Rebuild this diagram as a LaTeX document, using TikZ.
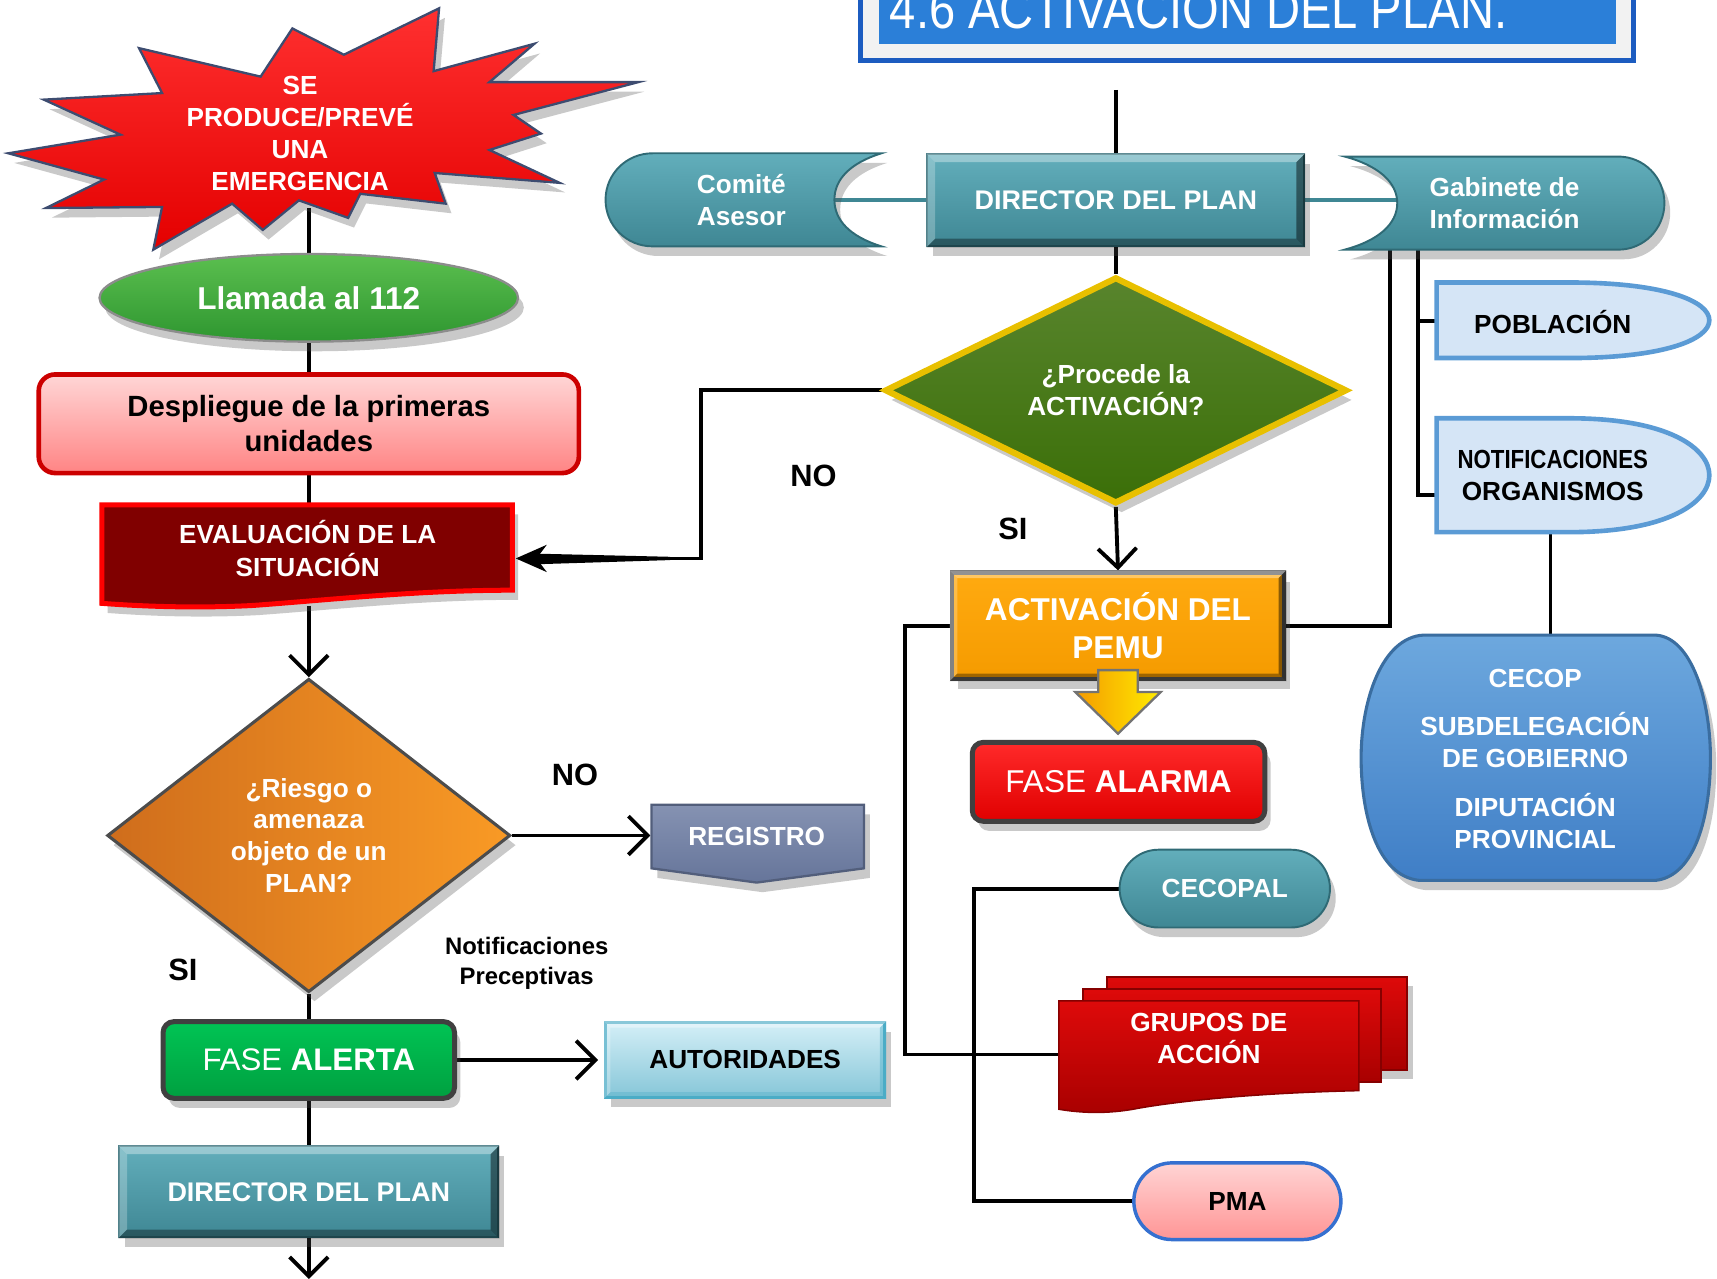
\documentclass[tikz,border=0pt]{standalone}
\usepackage{fontspec}
\setmainfont{Liberation Sans}
\newfontfamily\narrowfont[FakeStretch=0.85]{Liberation Sans}
\usetikzlibrary{shapes.geometric,shadows,arrows.meta,calc}
\pgfdeclarelayer{bg}
\pgfsetlayers{bg,main}
\newcommand\fz[2]{\fontsize{#1}{#2}\selectfont}
\definecolor{tealA}{HTML}{62AEBB}
\definecolor{tealB}{HTML}{3F8794}
\definecolor{tealD}{HTML}{2F6A75}
\definecolor{grnA}{HTML}{5BBF4F}
\definecolor{grnB}{HTML}{2E9630}
\definecolor{pinkA}{HTML}{FFD6D6}
\definecolor{pinkB}{HTML}{FF8484}
\definecolor{darkred}{HTML}{800000}
\definecolor{orgA}{HTML}{CF6D1C}
\definecolor{orgB}{HTML}{F99A25}
\definecolor{regA}{HTML}{8592B2}
\definecolor{regB}{HTML}{66759A}
\definecolor{alA}{HTML}{00C454}
\definecolor{alB}{HTML}{00A040}
\definecolor{autA}{HTML}{D4EFF7}
\definecolor{autB}{HTML}{86C6D8}
\definecolor{autD}{HTML}{4BACC6}
\definecolor{titleblue}{HTML}{2B7FD8}
\definecolor{titleedge}{HTML}{1C5CC0}
\definecolor{procG}{HTML}{3B6F08}
\definecolor{gold}{HTML}{E8C000}
\definecolor{actA}{HTML}{FFAA10}
\definecolor{actB}{HTML}{F59B00}
\definecolor{almA}{HTML}{FF2A2A}
\definecolor{almB}{HTML}{E00000}
\definecolor{pobF}{HTML}{D5E5F6}
\definecolor{pobD}{HTML}{5B9BD5}
\definecolor{cecA}{HTML}{6DA8DE}
\definecolor{cecB}{HTML}{3F7EC6}
\definecolor{cecD}{HTML}{3A6DA0}
\definecolor{grpA}{HTML}{DE0A0A}
\definecolor{grpB}{HTML}{A80000}
\definecolor{pmaA}{HTML}{FFD4D4}
\definecolor{pmaB}{HTML}{FF9595}
\definecolor{pmaD}{HTML}{3570D0}
\definecolor{starA}{HTML}{FF3030}
\definecolor{starB}{HTML}{E40000}
\definecolor{starD}{HTML}{3D4C70}
\newcommand\bevel[4]{%
 \fill[#3,opacity=.35] (#1.north west) -- (#1.north east) -- ($(#1.north east)+(-#2,#2)$) -- ($(#1.north west)+(#2,#2)$) -- cycle;
 \fill[#3,opacity=.25] (#1.north west) -- ($(#1.north west)+(#2,#2)$) -- ($(#1.south west)+(#2,-#2)$) -- (#1.south west) -- cycle;
 \fill[#4,opacity=.35] (#1.south west) -- ($(#1.south west)+(#2,-#2)$) -- ($(#1.south east)+(-#2,-#2)$) -- (#1.south east) -- cycle;
 \fill[#4,opacity=.45] (#1.north east) -- (#1.south east) -- ($(#1.south east)+(-#2,-#2)$) -- ($(#1.north east)+(-#2,#2)$) -- cycle;
}
\begin{document}
\begin{tikzpicture}[x=0.01cm,y=-0.01cm,
  conn/.style={line width=1pt,black},
  arr/.style={conn,-{Straight Barb[length=5pt,width=10pt,line width=1pt]}},
  shad/.style={drop shadow={shadow xshift=1.5pt,shadow yshift=-2.5pt,opacity=.3,fill=black!70}},
  txt/.style={text=white,align=center,inner sep=0pt},
  ftwo/.style={font=\bfseries\fz{6.8}{8.3}},
  fbig/.style={font=\bfseries\fz{8.2}{9.7}},
  tealbox/.style={top color=tealA,bottom color=tealB,draw=tealD,line width=.5pt}]
\useasboundingbox (0,0) rectangle (1568,1168);

% title
\filldraw[fill=black!5,draw=titleedge,line width=1.3pt] (786,-20) rectangle (1492,55);
\fill[titleblue] (803,-20) rectangle (1476,40);
\node[anchor=base west,text=white,font=\narrowfont\fz{14.4}{16},inner sep=0pt] (title) at (812,26) {4.6 ACTIVACIÓN DEL PLAN.};
\coordinate (topline) at (1019,82);

% star
\filldraw[top color=starA,bottom color=starB,draw=starD,line width=.6pt,shad]
 (7.6,140) -- (110,123) -- (40,91) -- (148,85) -- (127,44) -- (238,70) -- (267,26) -- (314,50)
 -- (401,7.6) -- (396,65) -- (488,40) -- (447,75) -- (583,75) -- (469,105) -- (494,122)
 -- (447,137) -- (511,167) -- (397,158) -- (407,186) -- (329,177) -- (318,199) -- (273,183)
 -- (240,210) -- (212,186) -- (140,228) -- (148,189) -- (42,190) -- (95,164) -- cycle;
\node[txt,ftwo] (emerg) at (274,122) {SE\\PRODUCE/PREVÉ\\UNA\\EMERGENCIA};
\coordinate (emergB) at (282,190);

% left column
\node[ellipse,minimum width=3.82cm,minimum height=0.8cm,top color=grnA,bottom color=grnB,draw=black!45,line width=.6pt,shad,txt,fbig] (llamada) at (282,272) {Llamada al 112};
\node[rectangle,rounded corners=0.15cm,minimum width=4.93cm,minimum height=0.9cm,top color=pinkA,bottom color=pinkB,draw=red!80!black,line width=1.2pt,align=center,inner sep=0pt,font=\bfseries\fz{7.6}{9.1}] (desp) at (282,387) {Despliegue de la primeras\\unidades};

\filldraw[fill=darkred,draw=red,line width=1.3pt,shad] (93,461) -- (468,461) -- (468,539) .. controls (380,539) and (300,548) .. (230,553) .. controls (170,556) and (120,553) .. (93,551) -- cycle;
\node[txt,font=\bfseries\fz{6.8}{8.5}] (eval) at (281,501) {EVALUACIÓN DE LA\\SITUACIÓN};
\coordinate (eval-n) at (282,461);
\coordinate (eval-s) at (282,553);
\coordinate (eval-e) at (471,510);

\node[diamond,aspect=1.29,minimum width=3.68cm,minimum height=2.86cm,left color=orgA,right color=orgB,draw=black!70,line width=.8pt,shad,txt,ftwo] (riesgo) at (282,763) {¿Riesgo o\\amenaza\\objeto de un\\PLAN?};

\filldraw[top color=regA,bottom color=regB,draw=regB!80!black,line width=.6pt,shad] (595,735) -- (789,735) -- (789,793) -- (691,806) -- (595,793) -- cycle;
\node[txt,ftwo] (registro) at (691,764) {REGISTRO};
\coordinate (reg-w) at (594,763);

\node[font=\bfseries\fz{8}{9},inner sep=0pt] (no1) at (525,708) {NO};
\node[font=\bfseries\fz{8}{9},inner sep=0pt] (si1) at (167,886) {SI};
\node[align=center,font=\bfseries\fz{6.2}{7.7},inner sep=0pt] (nprec) at (481,880) {Notificaciones\\Preceptivas};

\node[rectangle,rounded corners=0.1cm,minimum width=2.66cm,minimum height=0.7cm,top color=alA,bottom color=alB,draw=black!75,line width=1.3pt,shad,txt,font=\fz{8.1}{9}] (alerta) at (282,968) {FASE \textbf{ALERTA}};

\node[rectangle,minimum width=2.55cm,minimum height=0.68cm,top color=autA,bottom color=autB,draw=autD,line width=.8pt,shad,align=center,inner sep=0pt,ftwo] (autoridades) at (680.5,968) {AUTORIDADES};
\bevel{autoridades}{6}{white}{autD}

\node[rectangle,minimum width=3.46cm,minimum height=0.83cm,tealbox,shad,txt,font=\bfseries\fz{7}{8.3}] (dirB) at (282,1088.5) {DIRECTOR DEL PLAN};
\bevel{dirB}{8}{white}{black}
\coordinate (endB) at (282,1168);

% top right group
\filldraw[tealbox,shad] (805,140) -- (596,140) .. controls (572,140) and (553,159) .. (553,182.5) .. controls (553,206) and (572,225) .. (596,225) -- (805,225) .. controls (776,216) and (762,201) .. (762,182.5) .. controls (762,164) and (776,149) .. (805,140) -- cycle;
\node[txt,ftwo] (comite) at (677,182.5) {Comité\\Asesor};
\coordinate (comite-e) at (762,183);

\node[rectangle,minimum width=3.44cm,minimum height=0.84cm,tealbox,shad,txt,font=\bfseries\fz{7}{8.3}] (dirT) at (1019,183) {DIRECTOR DEL PLAN};
\bevel{dirT}{8}{white}{black}

\filldraw[tealbox,shad] (1228,143) -- (1478,143) .. controls (1501,143) and (1520,162) .. (1520,185.5) .. controls (1520,209) and (1501,228) .. (1478,228) -- (1228,228) .. controls (1258,220) and (1276,205) .. (1276,185.5) .. controls (1276,166) and (1258,151) .. (1228,143) -- cycle;
\node[txt,ftwo] (gabinete) at (1374,185.5) {Gabinete de\\Información};
\coordinate (gab-w) at (1276,183);
\coordinate (gab-b1) at (1269,226);
\coordinate (gab-b2) at (1295,226);

\filldraw[fill=pobF,draw=pobD,line width=1.2pt] (1312,258) -- (1433,258) .. controls (1520,258) and (1561,275) .. (1561,292.5) .. controls (1561,310) and (1520,327) .. (1433,327) -- (1312,327) -- cycle;
\node[inner sep=0pt,ftwo] (poblacion) at (1418,294) {POBLACIÓN};
\coordinate (pob-w) at (1312,293);

\filldraw[fill=pobF,draw=pobD,line width=1.2pt] (1312,382) -- (1433,382) .. controls (1525,382) and (1561,410) .. (1561,434) .. controls (1561,458) and (1525,486) .. (1433,486) -- (1312,486) -- cycle;
\node[inner sep=0pt,align=center,ftwo] (notif) at (1418,434) {\scalebox{0.85}[1]{NOTIFICACIONES}\\ORGANISMOS};
\coordinate (not-w) at (1312,452);
\coordinate (not-s) at (1416,486);

\filldraw[top color=cecA,bottom color=cecB,draw=cecD,line width=.8pt,shad] (1300,580) -- (1512,580) .. controls (1545,582) and (1562,640) .. (1562,692) .. controls (1562,745) and (1548,800) .. (1512,804) -- (1296,804) .. controls (1258,800) and (1243,745) .. (1243,692) .. controls (1243,640) and (1262,582) .. (1300,580) -- cycle;
\node[txt,ftwo] (cecop) at (1402,693) {CECOP\\[4.3pt]SUBDELEGACIÓN\\DE GOBIERNO\\[4.3pt]DIPUTACIÓN\\PROVINCIAL};
\coordinate (cecop-n) at (1416,580);

% green decision
\node[diamond,aspect=2.04,minimum width=4.22cm,minimum height=2.07cm,top color=procG!85!white,bottom color=procG,draw=gold,line width=1.6pt,shad,txt,ftwo] (proc) at (1019,356.5) {¿Procede la\\ACTIVACIÓN?};
\node[font=\bfseries\fz{8}{9},inner sep=0pt] (no2) at (743,435) {NO};
\node[font=\bfseries\fz{8}{9},inner sep=0pt] (si2) at (925,483) {SI};

\node[rectangle,minimum width=3.03cm,minimum height=0.97cm,top color=actA,bottom color=actB,draw=black!65,line width=1.2pt,shad,txt,font=\bfseries\fz{8.2}{9.7}] (activ) at (1021,571.5) {ACTIVACIÓN DEL\\PEMU};
\bevel{activ}{7}{white}{black}
\filldraw[left color=actB,right color=yellow!85!orange,draw=black!55,line width=.6pt] (1003,612) -- (1039,612) -- (1039,632) -- (1060,632) -- (1021,670) -- (982,632) -- (1003,632) -- cycle;

\node[rectangle,rounded corners=0.1cm,minimum width=2.67cm,minimum height=0.72cm,top color=almA,bottom color=almB,draw=black!75,line width=1.3pt,shad,txt,font=\fz{8.2}{9}] (alarma) at (1021.5,714) {FASE \textbf{ALARMA}};

\node[rectangle,rounded corners=0.355cm,minimum width=1.92cm,minimum height=0.71cm,tealbox,shad,txt,ftwo] (cecopal) at (1118.5,811.5) {CECOPAL};

\filldraw[top color=grpA,bottom color=grpB,draw=grpB!80!black,line width=.4pt,shad] (1011,892) rectangle (1285,977);
\filldraw[top color=grpA,bottom color=grpB,draw=grpB!80!black,line width=.4pt] (989,903) rectangle (1261,988);
\filldraw[top color=grpA,bottom color=grpB,draw=grpB!80!black,line width=.4pt] (967,914) -- (1241,914) -- (1241,996) .. controls (1150,998) and (1080,1005) .. (1040,1012) .. controls (1010,1018) and (985,1016) .. (967,1013) -- cycle;
\node[txt,ftwo] (grupos) at (1104,948) {GRUPOS DE\\ACCIÓN};
\coordinate (grupos-w) at (967,963);

\node[rectangle,rounded corners=0.35cm,minimum width=1.89cm,minimum height=0.7cm,top color=pmaA,bottom color=pmaB,draw=pmaD,line width=.9pt,inner sep=0pt,ftwo] (pma) at (1130,1097) {PMA};

% connectors
\begin{pgfonlayer}{bg}
\draw[conn] (emergB) -- (llamada.north);
\draw[conn] (llamada.south) -- (desp.north);
\draw[conn] (desp.south) -- (eval-n);
\draw[arr] (eval-s) -- (riesgo.north);
\draw[arr] (riesgo.east) -- (reg-w);
\draw[conn] (riesgo.south) -- (alerta.north);
\draw[arr,shorten >=1.5pt] (alerta.east) -- (autoridades.west);
\draw[conn] (alerta.south) -- (dirB.north);
\draw[arr] (dirB.south) -- (endB);
\draw[conn] (topline) -- (dirT.north);
\draw[conn] (dirT.south) -- (proc.north);
\draw[tealB,line width=1pt] (comite-e) -- (dirT.west);
\draw[tealB,line width=1pt] (dirT.east) -- (gab-w);
\draw[conn,-{Stealth[length=8pt,width=7pt]}] (proc.west) -- ++(-165,0) |- (eval-e);
\fill[black] (484,505.5) -- (612,508.5) -- (612,511.5) -- (484,515.5) -- cycle;
\draw[arr] (proc.south) -- (activ.north);
\draw[conn] (activ.east) -| (gab-b1);
\draw[conn] (gab-b2) |- (pob-w);
\draw[conn] (gab-b2) |- (not-w);
\draw[conn] (not-s) -- (cecop-n);
\draw[conn] (activ.west) -- ++(-41,0) |- (grupos-w);
\draw[conn] (cecopal.west) -- ++(-132,0) |- (pma.west);
\end{pgfonlayer}
\end{tikzpicture}
\end{document}
